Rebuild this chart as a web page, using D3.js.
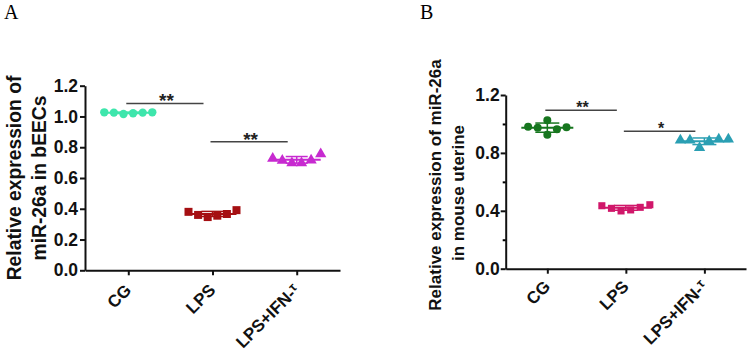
<!DOCTYPE html>
<html><head><meta charset="utf-8">
<script src="https://cdn.jsdelivr.net/npm/d3@7"></script>
<style>
html,body{margin:0;padding:0;background:#fff;}
svg{display:block;}
text{font-family:"Liberation Sans",Arial,sans-serif;}
</style></head>
<body>
<svg id="chart" width="749" height="352"></svg>
<script>
// ---- data ----
const categories = ["CG", "LPS", "LPS+IFN-τ"];

// Panel A: relative expression of miR-26a in bEECs
const aCG  = [1.027, 1.025, 1.016, 1.021, 1.025, 1.027];
const aLPS = [0.380, 0.360, 0.346, 0.355, 0.366, 0.391];
const aIFN = [0.726, 0.714, 0.698, 0.698, 0.716, 0.756];
const aSlots = [[-2.5,-1.5,-0.5,0.5,1.5,2.5],[-2.5,-1.5,-0.5,0.5,1.5,2.5],[-2.5,-1.5,-0.5,0.5,1.5,2.5]];
const aTicks = [0, 0.2, 0.4, 0.6, 0.8, 1.0, 1.2];
const aSig = [{from:"CG", to:"LPS", y:1.085, label:"**"}, {from:"LPS", to:"LPS+IFN-τ", y:0.835, label:"**"}];

// Panel B: relative expression of miR-26a in mouse uterine
const bCG  = [0.981, 0.974, 1.025, 0.926, 0.963, 0.977];
const bLPS = [0.435, 0.417, 0.399, 0.406, 0.424, 0.442];
const bIFN = [0.888, 0.888, 0.835, 0.881, 0.895, 0.895];
const bSlots = [[-2,-1,0,0,1,2],[-2.5,-1.5,-0.5,0.5,1.5,2.5],[-2.5,-1.5,-0.5,0.5,1.5,2.5]];
const bTicks = [0, 0.4, 0.8, 1.2];
const bMinor = [0.2, 0.6, 1.0];
const bSig = [{from:"CG", to:"LPS", y:1.095, label:"**"}, {from:"LPS", to:"LPS+IFN-τ", y:0.95, label:"*"}];

const svg = d3.select("#chart");

function drawPanel(p) {
  const g = svg.append("g");
  const x = d3.scalePoint().domain(categories).range([p.x0, p.x1]).padding(p.pad);
  const y = d3.scaleLinear().domain([0, 1.2]).range([p.yBottom, p.yTop]);

  // panel letter
  g.append("text").attr("x", p.letterX).attr("y", 19)
    .style("font-family", "'Liberation Serif','Times New Roman',serif")
    .style("font-size", "20px").text(p.letter);

  // y axis
  const ya = g.append("g").attr("transform", `translate(${p.x0},0)`)
    .call(d3.axisLeft(y).tickValues(p.ticks).tickFormat(d3.format(".1f")).tickSize(5).tickSizeOuter(0).tickPadding(p.tickPad));
  if (p.minor) {
    g.append("g").attr("transform", `translate(${p.x0},0)`)
      .call(d3.axisLeft(y).tickValues(p.minor).tickFormat("").tickSize(3).tickSizeOuter(0))
      .select(".domain").remove();
  }
  // x axis
  const xa = g.append("g").attr("transform", `translate(0,${p.yBottom})`)
    .call(d3.axisBottom(x).tickSize(5).tickSizeOuter(0).tickFormat(""));
  [ya, xa].forEach(a => {
    a.select(".domain").attr("stroke", "#111").attr("stroke-width", 2);
    a.selectAll(".tick line").attr("stroke", "#111").attr("stroke-width", 2);
  });
  ya.selectAll(".tick text").style("font-size", p.tickFont + "px").style("font-weight", "bold").attr("fill", "#111");
  svg.selectAll(".tick line").attr("stroke-width", 2);

  // x labels rotated
  categories.forEach(c => {
    const t = g.append("text")
      .attr("transform", `translate(${x(c) + 4},${p.yBottom + p.labDy}) rotate(-45)`)
      .attr("text-anchor", "end")
      .style("font-size", p.xFont + "px").style("font-weight", "bold").attr("fill", "#111");
    if (c.endsWith("τ")) {
      t.append("tspan").text(c.slice(0, -1));
      t.append("tspan").text("τ").style("font-size", (p.xFont * 0.75) + "px").attr("dy", "-0.35em");
    } else t.text(c);
  });

  // y title
  const ty = g.append("text")
    .attr("transform", `translate(${p.titleX},${p.titleY}) rotate(-90)`)
    .attr("text-anchor", "middle")
    .style("font-size", p.titleFont + "px").style("font-weight", "bold").attr("fill", "#111");
  p.title.forEach((line, i) => {
    ty.append("tspan").attr("x", p.titleShift[i]).attr("dy", i === 0 ? 0 : p.titleGap).text(line);
  });

  // significance bars
  p.sig.forEach(s => {
    const yy = y(s.y);
    g.append("line").attr("x1", x(s.from) - 2).attr("x2", x(s.to) - 9)
      .attr("y1", yy).attr("y2", yy).attr("stroke", "#444").attr("stroke-width", 1.5);
    g.append("text").attr("x", (x(s.from) + x(s.to)) / 2 - 4).attr("y", yy + p.starDy)
      .attr("text-anchor", "middle").style("font-size", p.starFont + "px").style("font-weight", "bold")
      .attr("fill", "#222").text(s.label);
  });

  // groups
  const slotScale = d3.scaleLinear().domain([-1, 1]).range([-p.slotW, p.slotW]);
  p.series.forEach((vals, gi) => {
    const c = categories[gi];
    const cx = x(c);
    const col = p.colors[gi];
    const m = d3.mean(vals), sd = d3.deviation(vals);
    g.append("line").attr("x1", cx - p.meanW).attr("x2", cx + p.meanW)
      .attr("y1", y(m)).attr("y2", y(m)).attr("stroke", col).attr("stroke-width", 2);
    g.append("line").attr("x1", cx).attr("x2", cx).attr("y1", y(m - sd)).attr("y2", y(m + sd))
      .attr("stroke", col).attr("stroke-width", 1.5);
    [m - sd, m + sd].forEach(v => g.append("line").attr("x1", cx - p.capW).attr("x2", cx + p.capW)
      .attr("y1", y(v)).attr("y2", y(v)).attr("stroke", col).attr("stroke-width", 1.5));
    const sym = [d3.symbolCircle, d3.symbolSquare, d3.symbolTriangle][gi];
    const size = p.symSize[gi];
    g.selectAll(null).data(vals).enter().append("path")
      .attr("d", d3.symbol().type(sym).size(size))
      .attr("transform", (v, i) => `translate(${cx + slotScale(p.slots[gi][i])},${y(v)})`)
      .attr("fill", col);
  });
}

drawPanel({
  letter: "A", letterX: 4,
  x0: 85, x1: 340, pad: 0.514, yBottom: 270.3, yTop: 85.7,
  ticks: aTicks, tickPad: 2, tickFont: 17.5, xFont: 17, labDy: 21,
  title: ["Relative expression of", "miR-26a in bEECs"], titleShift: [0, 0], titleX: 21, titleY: 178, titleGap: 25, titleFont: 19.3,
  sig: aSig, starFont: 19, starDy: 4,
  series: [aCG, aLPS, aIFN], slots: aSlots, slotW: 9.6,
  colors: ["#3ee6ac", "#a50f12", "#c72ad0"],
  symSize: [55, 64, 55], meanW: 24, capW: 11
});

drawPanel({
  letter: "B", letterX: 420,
  x0: 505.7, x1: 746, pad: 0.53, yBottom: 268.7, yTop: 95,
  ticks: bTicks, minor: bMinor, tickPad: 1, tickFont: 17.5, xFont: 17, labDy: 19,
  title: ["Relative expression of miR-26a", "in mouse uterine"], titleShift: [0, -8], titleX: 441, titleY: 185, titleGap: 23, titleFont: 17,
  sig: bSig, starFont: 16, starDy: 3,
  series: [bCG, bLPS, bIFN], slots: bSlots, slotW: 9.6,
  colors: ["#17761f", "#d0176a", "#2a9fb3"],
  symSize: [50, 50, 55], meanW: 26, capW: 12
});
</script>
</body></html>
